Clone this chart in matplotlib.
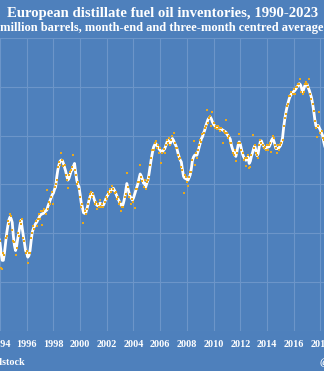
import matplotlib
matplotlib.use('Agg')
import matplotlib.pyplot as plt
import numpy as np

# Euroilstock middle distillates, million barrels
# monthly from Jul 1993 to Jun 2018 (the visible window of the chart)
start_year = 1993.5

avg_3m = [
    362, 364, 365, 363, 361, 358,
    356, 352, 349, 349, 352, 356, 360, 363, 365.5, 366.7, 366, 364.5,
    359, 355, 353, 355, 358, 360.5, 363.5, 365.4, 362, 359, 356, 353,
    352, 350.3, 351, 353, 357, 360.5, 362, 363, 364, 364.6, 365.5, 366.5,
    367.3, 367.8, 368, 368.2, 368.6, 369.2, 369.5, 371, 372.3, 373.5, 374.6, 375.8,
    376.5, 378, 379, 383, 386, 388, 389.5, 390, 389.8, 388.6, 387, 385.5,
    383.5, 381.8, 382.5, 384, 385.5, 386, 387.5, 388.6, 385, 381.8, 380, 379,
    376, 372.5, 370.9, 368.5, 368.2, 368.2, 369.8, 371.5, 373.5, 375, 376, 376.4,
    375, 373.5, 372.4, 371.6, 371.3, 371.8, 372.4, 372, 371.8, 371.6, 372.7, 374,
    375, 375.8, 376.6, 377.3, 377.7, 378.1, 378.4, 377.5, 376.5, 375.3, 374.3, 373.2,
    372.3, 371.6, 371, 372.5, 374.5, 377.5, 380.4, 378.5, 376.5, 375, 374.5, 373.6,
    374.5, 376, 377.5, 379, 380.4, 382.5, 384.3, 383.5, 382, 380.6, 380.4, 379,
    380.5, 381.8, 384.5, 387.5, 390.5, 393, 395.2, 396.2, 396.7, 396, 395.3, 394.5,
    394, 393.4, 393.5, 394, 394.6, 395.8, 397.2, 398.1, 397.5, 396.7, 397.8, 398.8,
    398, 396.8, 396, 394.7, 392.8, 391.3, 390, 389.2, 386, 383.3, 382.6, 382.4,
    382.1, 381.8, 382.8, 384, 386.5, 389.9, 391.3, 392, 392, 392, 393.5, 395.2,
    397, 398.7, 399.5, 401, 402.2, 404, 405.3, 406.6, 407.2, 407.6, 406.8, 405.5,
    404.6, 404, 403.5, 403.3, 403.2, 403, 402.9, 402.6, 402.3, 402, 401.7, 401.4,
    400.6, 400, 399.3, 398.5, 396, 394.5, 393.3, 392.5, 391.5, 393.5, 396, 397.4,
    396.5, 394.5, 392.5, 391.3, 390.5, 389.9, 390.6, 391.2, 388.6, 389.5, 391.5, 393,
    394.7, 395.8, 394, 391.8, 392.5, 395.5, 397.5, 397.8, 396.5, 395.7, 394.9, 395,
    395.2, 395.3, 395.5, 396.5, 398, 398.8, 398, 396.5, 394.7, 394.7, 394.7, 395.2,
    395.8, 397, 399.2, 403.5, 406.8, 409.5, 411.7, 413.5, 415.1, 416.2, 417, 417.5,
    418, 418.4, 419.1, 419.8, 420.5, 421.2, 420.8, 419.5, 417.9, 419, 420.4, 421,
    421, 419.6, 418.5, 417, 415.5, 413, 410, 406.5, 404, 403.8, 404.1, 403.2,
    402.2, 401, 400, 397.4, 395.5, 394,
]

month_end = [
    361, 366, 363, 365, 359, 357,
    357, 346, 345.5, 352, 351, 358, 359, 365, 364, 368, 367, 361.5,
    357, 356.5, 351, 354, 360, 359, 365, 364, 366, 358, 357, 352,
    353, 348, 352, 352, 358, 360, 363, 362, 365, 363, 366, 368,
    366, 369, 363.4, 369, 370, 368, 377.7, 370, 373, 372, 375, 377,
    372, 379, 380, 382, 387, 389, 388, 392.9, 390, 387.5, 388, 384,
    382, 378.5, 384, 385, 386, 387, 392, 386, 384, 380, 381, 378,
    375, 371, 372, 364.3, 369, 368, 370, 372, 374, 376, 377, 375,
    376, 372, 373, 370, 372, 371, 373.5, 371, 372, 371, 373, 375,
    374, 377, 376, 378, 377, 379.5, 378, 376.5, 377, 374, 375, 372,
    373, 369.2, 371, 371, 375, 376, 384.7, 379, 375, 376, 372, 374,
    373, 370.2, 378, 378, 381, 381, 387.9, 383, 381.5, 379, 382, 378,
    381, 382, 383, 388, 391, 394, 394, 397, 397.7, 395, 396, 393,
    395, 388.8, 393, 394.5, 393, 396, 398, 397, 399, 396, 398, 400,
    401, 397, 395, 395, 392, 390.5, 391, 387, 386, 376.7, 384, 383,
    381, 379.3, 383, 385, 385, 390, 397.7, 387.9, 393, 391, 394, 396,
    398, 397.5, 400.5, 401, 403, 404, 410.6, 405, 407, 408, 404, 409.6,
    405, 403, 404, 402.5, 404, 403, 402, 403, 397, 402, 401, 406.5,
    401, 399, 400, 397, 397, 393, 392, 394, 389.5, 393, 397, 400.8,
    397, 394, 393, 390, 391, 387.5, 391, 392, 386.9, 387.2, 392, 400.1,
    395, 396, 393, 392, 391, 396, 398, 397, 396, 395, 395.5, 394,
    396, 394, 396, 397, 393.3, 400, 399, 396, 395, 392.9, 396, 394,
    396, 397, 398, 404, 407, 409, 412, 413, 416, 416, 418, 417,
    419, 417, 420, 420, 421, 421, 423.3, 418, 417, 418, 421, 422,
    421, 420, 423.3, 417, 415, 413, 410, 406, 403, 399.4, 404, 409.6,
    401, 402, 399, 398, 394, 395,
]

x_ticks = list(range(1994, 2020, 2))

BG = '#4E80BC'
GRID = '#6C95C9'
DOT = '#E9A81C'
FONT = 'Liberation Serif'

t = start_year + np.arange(len(month_end)) / 12.0

fig = plt.figure(figsize=(3.24, 3.71), dpi=100, facecolor=BG)
ax = fig.add_axes([0, 0.107, 1, 0.7914], facecolor=BG)

ax.plot(t, avg_3m, color='white', lw=2.0, solid_capstyle='round', zorder=3)
ax.plot(t, month_end, 's', color=DOT, ms=1.8, mew=0, zorder=4)

# the visible window: 1994 sits on the left edge, about 13.35 px per year
ax.set_xlim(1994, 1994 + 324 / 13.35)
ax.set_ylim(320, 440)
ax.set_xticks(x_ticks)
ax.set_yticks(range(320, 441, 20))
ax.yaxis.set_ticklabels([])
ax.grid(True, color=GRID, lw=0.8)
ax.set_axisbelow(True)
for s in ax.spines.values():
    s.set_visible(False)
ax.tick_params(length=0, pad=6, labelsize=7.3, labelcolor='white')
for lab in ax.get_xticklabels():
    lab.set_fontfamily(FONT)
    lab.set_fontweight('bold')

fig.text(0.503, 0.964, 'European distillate fuel oil inventories, 1990-2023',
         ha='center', va='center', color='white', fontsize=10.6,
         fontweight='bold', family=FONT)
fig.text(0.5, 0.925, '(million barrels, month-end and three-month centred average)',
         ha='center', va='center', color='white', fontsize=9.0,
         fontweight='bold', family=FONT)
fig.text(25 / 324, 0.0224, 'Source: Euroilstock', ha='right', va='center',
         color='white', fontsize=7.3, fontweight='bold', family=FONT)
fig.text(320 / 324, 0.0224, '@JKempEnergy', ha='left', va='center',
         color='white', fontsize=7.3, fontweight='bold', family=FONT)

fig.savefig('out.png', dpi=100, facecolor=BG)
